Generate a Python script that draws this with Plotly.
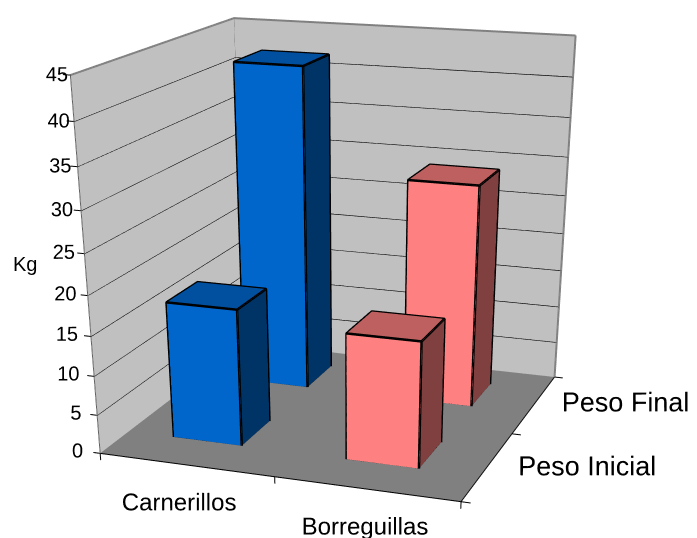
import plotly.graph_objects as go

categories = ["Carnerillos", "Borreguillas"]
series_names = ["Peso Inicial", "Peso Final"]
peso_inicial = [17.5, 16]
peso_final = [42, 29]
z_ticks = [0, 5, 10, 15, 20, 25, 30, 35, 40, 45]
series_values = [peso_inicial, peso_final]
cat_colors = [("#0066CC", "#00509F", "#003366"), ("#FF8080", "#BF6060", "#804040")]

ZMAX = 45
XR = (-0.4, 2.8)
YR = (-1.0, 2.2)
ZR = (-1, 46)
BX, BY, BW = 0.47, 0.55, 0.2
W, H = 689, 1400
EYE = (1.3932, -3.9703, 1.1370)
CENTER = (1.0559, -3.0042, 0.5510)
ASPECT = (1.5524, 1.5659, 0.9701)

fig = go.Figure()


def quad(p, color):
    fig.add_trace(go.Mesh3d(
        x=[a[0] for a in p], y=[a[1] for a in p], z=[a[2] for a in p],
        i=[0, 0], j=[1, 2], k=[2, 3], color=color, flatshading=True,
        lighting=dict(ambient=1, diffuse=0, specular=0, roughness=1, fresnel=0),
        hoverinfo="skip", showscale=False))


def line(p, color="black", width=1):
    fig.add_trace(go.Scatter3d(
        x=[a[0] for a in p], y=[a[1] for a in p], z=[a[2] for a in p],
        mode="lines", line=dict(color=color, width=width), hoverinfo="skip", showlegend=False))


def label(p, text, size):
    fig.add_trace(go.Scatter3d(
        x=[p[0]], y=[p[1]], z=[p[2]], mode="text", text=[text], textposition="middle center",
        textfont=dict(family="Liberation Sans", size=size, color="black"),
        hoverinfo="skip", showlegend=False))


quad([(0, 0, 0), (2, 0, 0), (2, 2, 0), (0, 2, 0)], "#808080")
quad([(0, 0, 0), (0, 2, 0), (0, 2, ZMAX), (0, 0, ZMAX)], "#C0C0C0")
quad([(0, 2, 0), (2, 2, 0), (2, 2, ZMAX), (0, 2, ZMAX)], "#C0C0C0")
for v in z_ticks:
    line([(0, 0, v), (0, 2, v), (2, 2, v)], "black" if 0 < v < 45 else "#808080", 2 if 0 < v < 45 else 4)
    line([(0, 0, v), (-0.04, 0, v)], width=2)
    lean = (-7 + 17 * v / ZMAX) / 180
    label(((-0.13 if v >= 10 else -0.097) + lean, 0, v), str(v), 20)
line([(0, 0, 0), (0, 0, ZMAX)], "#606060", 2)
line([(0, 2, 0), (0, 2, ZMAX)], "#808080", 4)
line([(2, 2, 0), (2, 2, ZMAX)], "#808080", 4)
line([(0, 0, 0), (2, 0, 0), (2, 2, 0)], width=2)
for x in [0, 1, 2]:
    line([(x, 0, 0), (x, 0, -0.9)], width=2)
for y in [0, 1, 2]:
    line([(2, y, 0), (2.05, y, 0)], width=2)

for s in [1, 0]:
    for c in [0, 1]:
        v = series_values[s][c]
        cx, cy = c + BX, s + BY
        x0, x1, y0, y1 = cx - BW, cx + BW, cy - BW, cy + BW
        front, top, side = cat_colors[c]
        quad([(x0, y0, 0), (x1, y0, 0), (x1, y0, v), (x0, y0, v)], front)
        quad([(x0, y0, v), (x1, y0, v), (x1, y1, v), (x0, y1, v)], top)
        quad([(x1, y0, 0), (x1, y1, 0), (x1, y1, v), (x1, y0, v)], side)
        line([(x0, y0, 0), (x1, y0, 0), (x1, y1, 0), (x1, y1, v), (x0, y1, v), (x0, y0, v), (x0, y0, 0)], width=5)
        line([(x0, y0, v), (x1, y0, v), (x1, y1, v)], width=5)
        line([(x1, y0, 0), (x1, y0, v)], width=5)

label((0.67, -0.459, 0), categories[0], 24)
label((1.654, -0.461, 0), categories[1], 24)
label((2.49, 0.68, 0), series_names[0], 27)
label((2.485, 1.715, 0), series_names[1], 27)

axis = dict(visible=False, showspikes=False)
fig.update_layout(
    width=W, height=H, margin=dict(l=0, r=0, t=0, b=0),
    paper_bgcolor="white", showlegend=False,
    scene=dict(
        xaxis=dict(axis, range=list(XR)), yaxis=dict(axis, range=list(YR)),
        zaxis=dict(axis, range=list(ZR)),
        aspectmode="manual", aspectratio=dict(x=ASPECT[0], y=ASPECT[1], z=ASPECT[2]),
        camera=dict(eye=dict(x=EYE[0], y=EYE[1], z=EYE[2]),
                    center=dict(x=CENTER[0], y=CENTER[1], z=CENTER[2]),
                    up=dict(x=0, y=0, z=1)),
        domain=dict(x=[0, 1], y=[0, 1]),
    ),
)
fig.add_annotation(text="Kg", x=16.5 / W, y=1 - 256 / H, xref="paper", yref="paper", showarrow=False,
                   xanchor="center", yanchor="middle", font=dict(family="Liberation Sans", size=20, color="black"))
fig.write_html("out.html")
